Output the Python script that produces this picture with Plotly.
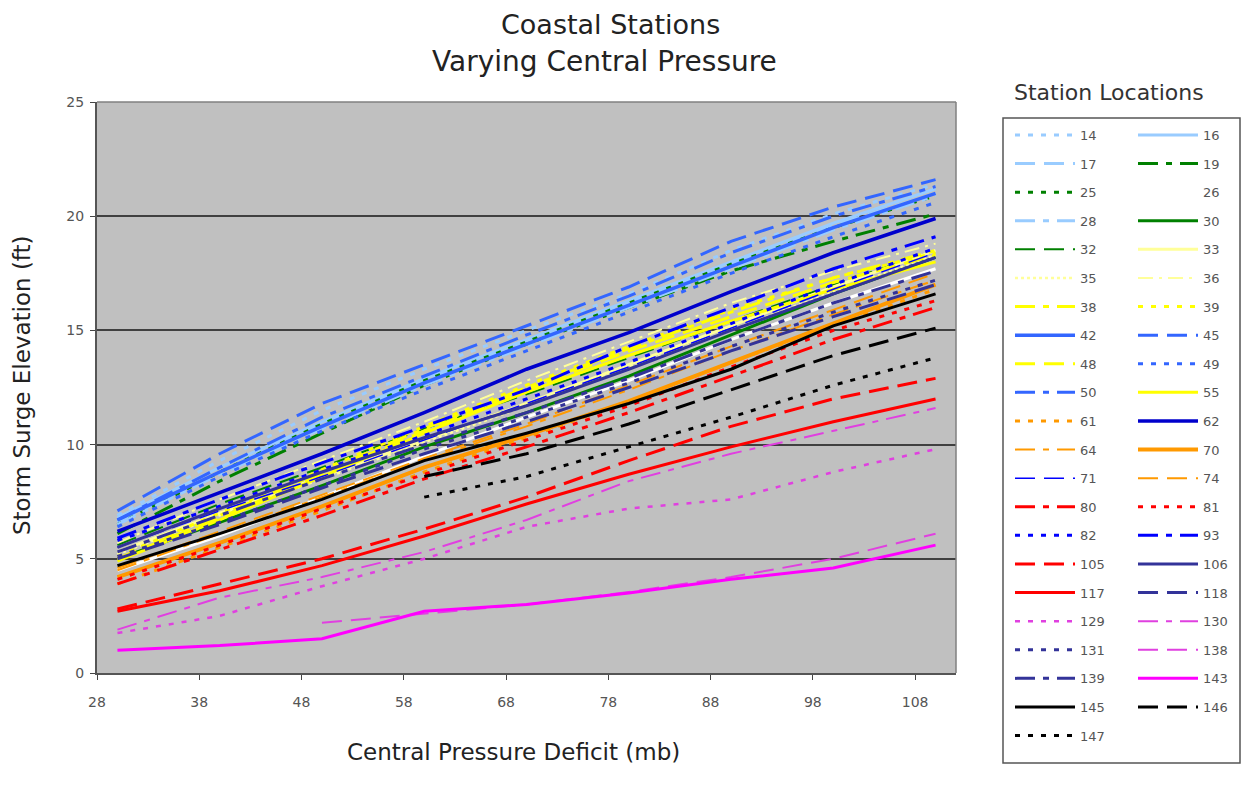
import plotly.graph_objects as go

# ---------------- data ----------------
x_mb = [30, 40, 50, 60, 70, 80, 90, 100, 110]

s14 = [6.9, 9.3, 11.5, 13.3, 15.0, 16.6, 18.5, 20.1, 21.4]
s16 = [6.8, 9.0, 11.0, 12.9, 14.6, 16.3, 18.0, 19.7, 21.2]
s17 = [6.6, 8.8, 10.9, 12.8, 14.5, 16.2, 17.9, 19.6, 21.0]
s19 = [6.1, 8.4, 10.5, 12.6, 14.4, 16.0, 17.6, 18.9, 20.1]
s25 = [6.5, 8.8, 10.9, 12.8, 14.5, 16.2, 17.9, 19.5, 20.9]
s26 = [4.5, 6.0, 7.7, 9.5, 11.2, 12.8, 14.6, 16.2, 17.7]
s28 = [6.5, 8.7, 10.7, 12.6, 14.3, 16.0, 17.7, 19.4, 20.9]
s30 = [5.0, 6.6, 8.2, 9.9, 11.4, 13.0, 14.8, 16.6, 18.2]
s32 = [5.6, 7.4, 9.0, 10.7, 12.2, 13.8, 15.4, 17.0, 18.5]
s33 = [5.3, 7.0, 8.6, 10.2, 11.8, 13.5, 15.2, 16.9, 18.5]
s35 = [5.2, 6.9, 8.5, 10.1, 11.7, 13.4, 15.0, 16.7, 18.3]
s36 = [5.7, 7.6, 9.3, 11.0, 12.8, 14.5, 16.2, 17.6, 18.8]
s38 = [5.0, 6.9, 8.8, 10.7, 12.5, 14.2, 15.8, 17.3, 18.5]
s39 = [5.1, 7.0, 8.9, 10.8, 12.6, 14.3, 15.9, 17.3, 18.4]
s42 = [6.7, 8.8, 10.8, 12.7, 14.4, 16.1, 17.8, 19.5, 21.0]
s45 = [7.1, 9.6, 11.8, 13.5, 15.2, 16.9, 18.9, 20.4, 21.6]
s48 = [5.0, 6.8, 8.7, 10.6, 12.4, 14.1, 15.6, 17.1, 18.3]
s49 = [6.4, 8.6, 10.6, 12.4, 14.1, 15.8, 17.5, 19.1, 20.6]
s50 = [6.7, 9.0, 11.2, 13.0, 14.8, 16.5, 18.4, 20.0, 21.3]
s55 = [4.9, 6.7, 8.6, 10.5, 12.3, 13.9, 15.4, 16.8, 18.0]
s61 = [3.9, 5.5, 7.1, 8.8, 10.3, 11.9, 13.6, 15.2, 16.8]
s62 = [6.2, 7.9, 9.6, 11.4, 13.3, 14.9, 16.7, 18.4, 19.9]
s64 = [4.5, 6.1, 7.7, 9.3, 10.8, 12.4, 14.1, 15.7, 17.2]
s70 = [4.2, 5.7, 7.3, 9.0, 10.4, 11.9, 13.6, 15.3, 17.0]
s71 = [5.5, 7.1, 8.6, 10.2, 11.8, 13.4, 15.1, 16.8, 18.4]
s74 = [4.6, 6.2, 7.8, 9.4, 10.9, 12.6, 14.3, 15.9, 17.5]
s80 = [3.9, 5.4, 6.9, 8.5, 9.9, 11.4, 13.0, 14.6, 16.0]
s81 = [4.1, 5.6, 7.2, 8.7, 10.2, 11.7, 13.4, 15.0, 16.3]
s82 = [5.8, 7.3, 8.9, 10.4, 12.0, 13.6, 15.3, 17.0, 18.6]
s93 = [5.9, 7.6, 9.2, 10.8, 12.4, 14.3, 16.0, 17.7, 19.1]
s105 = [2.8, 3.9, 5.0, 6.3, 7.7, 9.3, 10.8, 12.0, 12.9]
s106 = [5.5, 7.2, 8.8, 10.3, 11.7, 13.3, 15.0, 16.6, 18.2]
s117 = [2.7, 3.6, 4.7, 6.0, 7.4, 8.7, 9.9, 11.0, 12.0]
s118 = [5.0, 6.5, 8.1, 9.6, 11.0, 12.5, 14.1, 15.6, 17.0]
s129 = [1.75, 2.5, 3.8, 5.0, 6.4, 7.2, 7.6, 8.8, 9.8]
s130 = [1.9, 3.3, 4.2, 5.3, 6.7, 8.4, 9.6, 10.6, 11.6]
s131 = [5.1, 6.6, 8.2, 9.8, 11.2, 12.7, 14.3, 15.8, 17.2]
s138 = [None, None, 2.2, 2.6, 3.0, 3.55, 4.2, 5.0, 6.1]
s139 = [5.3, 6.9, 8.5, 10.0, 11.4, 12.9, 14.6, 16.2, 17.6]
s143 = [1.0, 1.2, 1.5, 2.7, 3.0, 3.5, 4.1, 4.6, 5.6]
s145 = [4.7, 6.1, 7.6, 9.3, 10.5, 11.8, 13.3, 15.2, 16.6]
s146 = [None, None, None, 8.6, 9.6, 10.9, 12.4, 13.9, 15.1]
s147 = [None, None, None, 7.7, 8.6, 9.9, 11.2, 12.6, 13.8]

stations = ["14", "16", "17", "19", "25", "26", "28", "30", "32", "33", "35", "36",
            "38", "39", "42", "45", "48", "49", "50", "55", "61", "62", "64", "70",
            "71", "74", "80", "81", "82", "93", "105", "106", "117", "118", "129",
            "130", "131", "138", "139", "143", "145", "146", "147"]
values = [s14, s16, s17, s19, s25, s26, s28, s30, s32, s33, s35, s36,
          s38, s39, s42, s45, s48, s49, s50, s55, s61, s62, s64, s70,
          s71, s74, s80, s81, s82, s93, s105, s106, s117, s118, s129,
          s130, s131, s138, s139, s143, s145, s146, s147]
right_column = {"16", "19", "26", "30", "33", "36", "39", "45", "49", "55", "62", "70",
                "74", "81", "93", "106", "118", "130", "138", "143", "146"}

# ---------------- styles ----------------
LB, DG, LY, YE = "#99CCFF", "#008000", "#FFFF99", "#FFFF00"
RB, OR, BL, RD = "#3366FF", "#FF9900", "#0000FF", "#FF0000"
NV, MG, BK, WH = "#333399", "#E040E0", "#000000", "#FFFFFF"
SQ = "5px,8px"
DSH = "20px,9px"
DD = "20px,8px,6px,8px"
SOL = "solid"

style = {
    "14": (LB, SQ, 3), "16": (LB, SOL, 3), "17": (LB, DSH, 3), "19": (DG, DD, 3),
    "25": (DG, SQ, 3), "26": (WH, SOL, 3), "28": (LB, DD, 3), "30": (DG, SOL, 3),
    "32": (DG, DSH, 2), "33": (LY, SOL, 3), "35": (LY, "dot", 2.5), "36": (LY, "longdashdot", 2),
    "38": (YE, DD, 3), "39": (YE, SQ, 3), "42": (RB, SOL, 3.5), "45": (RB, DSH, 3),
    "48": (YE, DSH, 3), "49": (RB, SQ, 3), "50": (RB, DD, 3), "55": (YE, SOL, 3),
    "61": (OR, SQ, 3), "62": ("#0000CC", SOL, 3.5), "64": (OR, DD, 2), "70": (OR, SOL, 4),
    "71": (BL, DSH, 1.5), "74": (OR, DSH, 2), "80": (RD, DD, 3), "81": (RD, SQ, 3),
    "82": (BL, SQ, 3), "93": (BL, DD, 3), "105": (RD, DSH, 3), "106": (NV, SOL, 3),
    "117": (RD, SOL, 3), "118": (NV, DSH, 3), "129": (MG, SQ, 2.5), "130": (MG, DD, 2),
    "131": (NV, SQ, 3), "138": (MG, DSH, 2), "139": (NV, DD, 3), "143": ("#FF00FF", SOL, 3),
    "145": (BK, SOL, 3), "146": (BK, DSH, 3), "147": (BK, SQ, 3),
}

FONT = "DejaVu Sans, Verdana, sans-serif"

fig = go.Figure()
for name, ys in zip(stations, values):
    color, dash, width = style[name]
    fig.add_trace(go.Scatter(
        x=x_mb, y=ys, mode="lines", name=name,
        line=dict(color=color, dash=dash, width=width),
        legend="legend2" if name in right_column else "legend",
        legendgroup=name, hoverinfo="skip",
    ))

# reference pixel geometry (page has an 8px body margin)
OFF = 8
W, H = 1249 - 2 * OFF, 786 - 2 * OFF
L, R, T, B = 97, 956, 102, 673          # plot area in reference pixels
pw, ph = R - L, B - T


def px(xp):
    return (xp - L) / pw


def py(yp):
    return (B - yp) / ph


legend_common = dict(
    orientation="v", bgcolor="rgba(0,0,0,0)", borderwidth=0,
    font=dict(family=FONT, size=13, color="#555555"),
    tracegroupgap=8.7, traceorder="grouped", itemwidth=60, maxheight=720,
    yanchor="top", xanchor="left", itemclick=False, itemdoubleclick=False,
)

fig.update_layout(
    width=W, height=H,
    margin=dict(l=L - OFF, r=W - (R - OFF), t=T - OFF, b=H - (B - OFF), autoexpand=False),
    paper_bgcolor="white", plot_bgcolor="#C0C0C0",
    font=dict(family=FONT, color="#333333"),
    showlegend=True,
    legend=dict(x=px(1010), y=py(120), **legend_common),
    legend2=dict(x=px(1133), y=py(120), **legend_common),
    xaxis=dict(
        range=[28, 112], tickvals=[28, 38, 48, 58, 68, 78, 88, 98, 108],
        ticks="outside", ticklen=5, tickcolor="#444444", ticklabelstandoff=10,
        showgrid=False, zeroline=False,
        showline=True, linecolor="#555555", linewidth=2, mirror=False,
        tickfont=dict(family=FONT, size=14, color="#555555"),
    ),
    yaxis=dict(
        range=[0, 25], dtick=5, ticks="outside", ticklen=5, tickcolor="#444444",
        showgrid=True, gridcolor="#404040", gridwidth=1.5, zeroline=False,
        showline=True, linecolor="#555555", linewidth=2, ticklabelstandoff=3,
        tickfont=dict(family=FONT, size=14, color="#555555"),
    ),
    shapes=[
        dict(type="line", xref="paper", yref="paper", x0=0, x1=1, y0=1, y1=1,
             line=dict(color="#808080", width=1.5)),
        dict(type="line", xref="paper", yref="paper", x0=1, x1=1, y0=0, y1=1,
             line=dict(color="#808080", width=1.5)),
        dict(type="rect", xref="paper", yref="paper",
             x0=px(1003), x1=px(1240), y0=py(763), y1=py(118),
             line=dict(color="#555555", width=1.5), fillcolor="rgba(0,0,0,0)"),
    ],
    annotations=[
        dict(text="Coastal Stations", xref="paper", yref="paper",
             x=px(610), y=py(24), xanchor="center", yanchor="middle", showarrow=False,
             borderpad=0, font=dict(family=FONT, size=27, color="#222222")),
        dict(text="Varying Central Pressure", xref="paper", yref="paper",
             x=px(604), y=py(61), xanchor="center", yanchor="middle", showarrow=False,
             font=dict(family=FONT, size=28, color="#222222")),
        dict(text="Central Pressure Deficit (mb)", xref="paper", yref="paper",
             x=px(513), y=py(752), xanchor="center", yanchor="middle", showarrow=False,
             font=dict(family=FONT, size=23, color="#222222")),
        dict(text="Storm Surge Elevation (ft)", xref="paper", yref="paper",
             x=px(22), y=py(385), xanchor="center", yanchor="middle", showarrow=False,
             textangle=-90, font=dict(family=FONT, size=23, color="#222222")),
        dict(text="Station Locations", xref="paper", yref="paper",
             x=px(1109), y=py(92), xanchor="center", yanchor="middle", showarrow=False,
             font=dict(family=FONT, size=22, color="#333333")),
    ],
)

fig.write_html("out.html")
